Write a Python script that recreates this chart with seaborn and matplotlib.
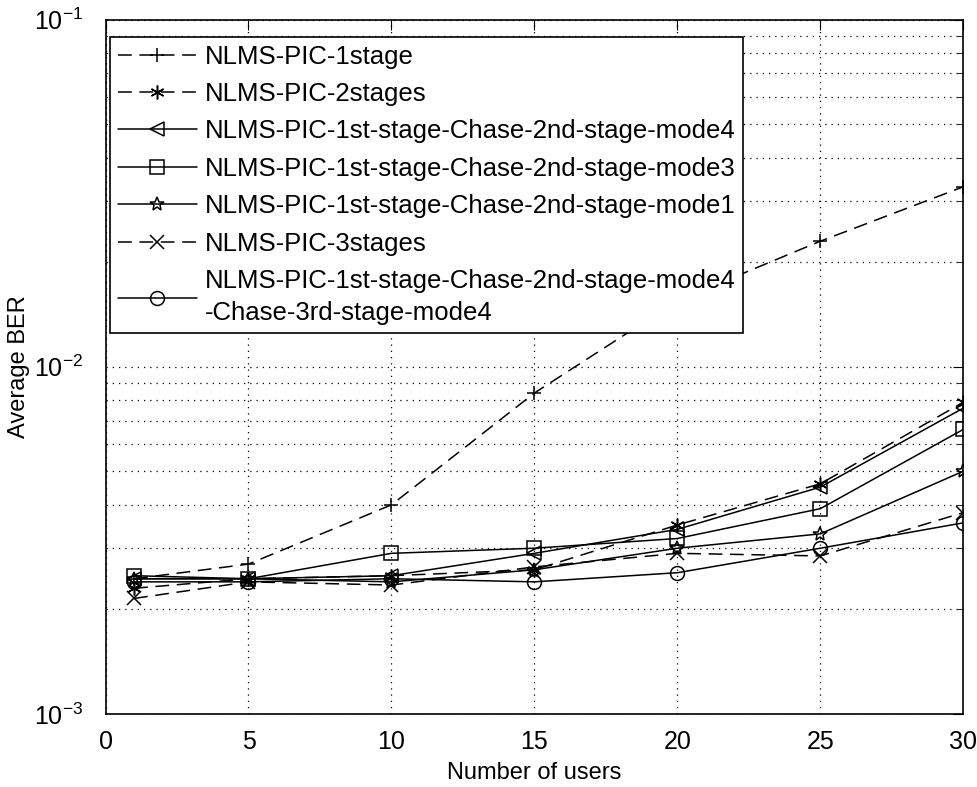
import numpy as np
import pandas as pd
import matplotlib
matplotlib.use("Agg")
import matplotlib.pyplot as plt
import seaborn as sns
from matplotlib.ticker import LogLocator, NullFormatter

users = [1, 5, 10, 15, 20, 25, 30]

labels = [
    "NLMS-PIC-1stage",
    "NLMS-PIC-2stages",
    "NLMS-PIC-1st-stage-Chase-2nd-stage-mode4",
    "NLMS-PIC-1st-stage-Chase-2nd-stage-mode3",
    "NLMS-PIC-1st-stage-Chase-2nd-stage-mode1",
    "NLMS-PIC-3stages",
    "NLMS-PIC-1st-stage-Chase-2nd-stage-mode4\n-Chase-3rd-stage-mode4",
]

ber_1stage = [2.45e-3, 2.7e-3, 4.0e-3, 8.4e-3, 1.55e-2, 2.3e-2, 3.3e-2]
ber_2stages = [2.3e-3, 2.45e-3, 2.5e-3, 2.6e-3, 3.5e-3, 4.6e-3, 7.9e-3]
ber_mode4 = [2.45e-3, 2.45e-3, 2.5e-3, 2.9e-3, 3.4e-3, 4.5e-3, 7.6e-3]
ber_mode3 = [2.5e-3, 2.45e-3, 2.9e-3, 3.0e-3, 3.2e-3, 3.9e-3, 6.6e-3]
ber_mode1 = [2.45e-3, 2.45e-3, 2.4e-3, 2.6e-3, 3.0e-3, 3.3e-3, 5.0e-3]
ber_3stages = [2.15e-3, 2.4e-3, 2.35e-3, 2.65e-3, 2.9e-3, 2.85e-3, 3.8e-3]
ber_chase3 = [2.4e-3, 2.4e-3, 2.45e-3, 2.4e-3, 2.55e-3, 3.0e-3, 3.55e-3]

series = [ber_1stage, ber_2stages, ber_mode4, ber_mode3, ber_mode1, ber_3stages, ber_chase3]
markers = ["+", (6, 2, 0), "<", "s", "*", "x", "o"]
dashed = [True, True, False, False, False, True, False]

sns.set_style("white")
plt.rcParams["font.family"] = ["Liberation Sans", "DejaVu Sans"]
plt.rcParams["mathtext.fontset"] = "custom"
plt.rcParams["mathtext.rm"] = "Liberation Sans"
plt.rcParams["text.color"] = "black"
plt.rcParams["axes.labelcolor"] = "black"
plt.rcParams["xtick.color"] = "black"
plt.rcParams["ytick.color"] = "black"

fig = plt.figure(figsize=(9.77, 7.87), dpi=100)
ax = fig.add_axes([0.108, 0.093, 0.878, 0.882])

for vals, lab, mk, ds in zip(series, labels, markers, dashed):
    sns.lineplot(x=users, y=vals, ax=ax, label=lab, color="black", lw=1.1,
                 marker=mk, markersize=10, markerfacecolor="none",
                 markeredgecolor="black", markeredgewidth=1.1,
                 linestyle=(0, (9, 5)) if ds else "-")

ax.set_yscale("log")
ax.set_xlim(0, 30)
ax.set_ylim(1e-3, 1e-1)
ax.set_xticks([0, 5, 10, 15, 20, 25, 30])
ax.yaxis.set_major_locator(LogLocator(base=10, numticks=5))
ax.yaxis.set_minor_locator(LogLocator(base=10, subs=np.arange(2, 10), numticks=20))
ax.yaxis.set_minor_formatter(NullFormatter())
ax.tick_params(which="both", direction="in", top=True, right=True, labelsize=18,
               color="black", labelcolor="black")
ax.tick_params(which="major", length=7)
ax.tick_params(which="minor", length=4)
ax.tick_params(axis="x", pad=12)
ax.tick_params(axis="y", pad=16)
ax.grid(True, which="major", linestyle=(0, (1, 4)), color="black", lw=0.9)
ax.grid(True, which="minor", axis="y", linestyle=(0, (1, 4)), color="black", lw=0.9)
for sp in ax.spines.values():
    sp.set_color("black")
    sp.set_linewidth(1.2)

ax.set_xlabel("Number of users", fontsize=17, color="black")
ax.set_ylabel("Average BER", fontsize=17, color="black")
ax.xaxis.set_label_coords(0.5, -0.07)
ax.yaxis.set_label_coords(-0.088, 0.5)

leg = ax.legend(loc="upper left", bbox_to_anchor=(0.005, 0.975), fontsize=18.5,
                handlelength=3.1, handletextpad=0.3, labelspacing=0.52,
                borderpad=0.3, borderaxespad=0.0, fancybox=False, framealpha=1,
                edgecolor="black")
leg.get_frame().set_linewidth(1.2)
for t in leg.get_texts():
    t.set_color("black")
leg.get_texts()[-1].set_linespacing(1.45)

fig.savefig("out.png", dpi=100)
